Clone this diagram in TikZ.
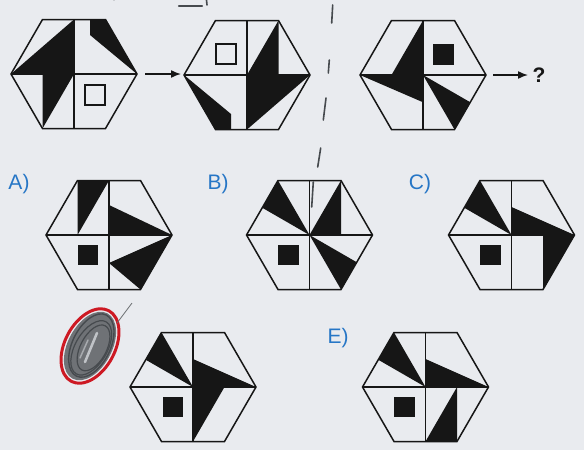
\documentclass[tikz,border=0pt]{standalone}
\usepackage{fontspec}
\setmainfont{Liberation Sans}
\usetikzlibrary{arrows.meta}
\definecolor{paper}{RGB}{233,235,239}
\definecolor{ink}{RGB}{22,22,22}
\definecolor{lab}{RGB}{38,118,198}
\definecolor{scribred}{RGB}{205,25,35}
\definecolor{pencil}{RGB}{70,74,78}
\newcommand{\hexbase}{%
  \draw[hexline] (-63,0) -- (-31.5,-54.5) -- (31.5,-54.5) -- (63,0) -- (31.5,54.5) -- (-31.5,54.5) -- cycle;
  \draw[hexline] (-63,0) -- (63,0) (0,-54.5) -- (0,54.5);}
\begin{document}
\begin{tikzpicture}[x=1pt,y=-1pt,
  hexline/.style={draw=ink,line width=1.5pt,line join=miter},
  blk/.style={fill=ink},
  sqo/.style={draw=ink,line width=1.5pt},
  lbl/.style={text=lab,font=\fontsize{21}{24}\selectfont,inner sep=0pt},
  arr/.style={draw=ink,line width=1.5pt,-{Latex[length=10pt,width=8pt]}},
  pmark/.style={draw=pencil,line width=1.6pt,line cap=round}]
\useasboundingbox (0,0) rectangle (584,450);
\fill[paper] (0,0) rectangle (584,450);

% ---- hexagon 1
\begin{scope}[shift={(74,74)}]
  \fill[blk] (-63,0) -- (0,-54.5) -- (0,0) -- (-31.5,54.5) -- (-31.5,0) -- cycle;
  \fill[blk] (16,-54.5) -- (31.5,-54.5) -- (63,0) -- (16,-39) -- cycle;
  \draw[sqo] (11,11) rectangle (31,31);
  \hexbase
\end{scope}
% ---- hexagon 2
\begin{scope}[shift={(247,75)}]
  \fill[blk] (63,0) -- (0,54.5) -- (0,0) -- (31.5,-54.5) -- (31.5,0) -- cycle;
  \fill[blk] (-16,54.5) -- (-31.5,54.5) -- (-63,0) -- (-16,39) -- cycle;
  \draw[sqo] (-31,-31) rectangle (-11,-11);
  \hexbase
\end{scope}
% ---- hexagon 3
\begin{scope}[shift={(423,75)}]
  \fill[blk] (0,-54.5) -- (0,27.25) -- (-63,0) -- (-31.5,0) -- cycle;
  \fill[blk] (0,0) -- (47.25,27.25) -- (31.5,54.5) -- cycle;
  \fill[blk] (10,-31) rectangle (31,-10);
  \hexbase
\end{scope}

% arrows
\coordinate (a1s) at (145,74);
\coordinate (a1e) at (181,74);
\coordinate (a2s) at (493,75);
\coordinate (a2e) at (528,75);
\draw[arr] (a1s) -- (a1e);
\draw[arr] (a2s) -- (a2e);
\node[inner sep=0pt,font=\bfseries\fontsize{21}{24}\selectfont,text=ink] (q) at (539,75) {?};

% ---- A
\begin{scope}[shift={(109,235)}]
  \fill[blk] (-31.5,-54.5) -- (0,-54.5) -- (-31.5,0) -- cycle;
  \fill[blk] (0,-30) -- (63,0) -- (0,0) -- cycle;
  \fill[blk] (0,28) -- (63,0) -- (31.5,54.5) -- cycle;
  \fill[blk] (-31.5,10) rectangle (-11,30);
  \hexbase
\end{scope}
% ---- B
\begin{scope}[shift={(309.5,235)}]
  \fill[blk] (0,0) -- (-47.25,-27.25) -- (-31.5,-54.5) -- cycle;
  \fill[blk] (0,0) -- (31.5,-54.5) -- (31.5,0) -- cycle;
  \fill[blk] (0,0) -- (47.25,27.25) -- (31.5,54.5) -- cycle;
  \fill[blk] (-31.5,10) rectangle (-11,30);
  \hexbase
\end{scope}
% ---- C
\begin{scope}[shift={(511.5,235)}]
  \fill[blk] (0,0) -- (-47.25,-27.25) -- (-31.5,-54.5) -- cycle;
  \fill[blk] (0,-28) -- (63,0) -- (31.5,54.5) -- (31.5,0) -- (0,0) -- cycle;
  \fill[blk] (-31.5,10) rectangle (-11,30);
  \hexbase
\end{scope}
% ---- D
\begin{scope}[shift={(193,387)}]
  \fill[blk] (0,0) -- (-47.25,-27.25) -- (-31.5,-54.5) -- cycle;
  \fill[blk] (0,-28) -- (63,0) -- (31.5,0) -- (0,54.5) -- cycle;
  \fill[blk] (-30.5,10) rectangle (-10,30);
  \hexbase
\end{scope}
% ---- E
\begin{scope}[shift={(425.5,387)}]
  \fill[blk] (0,0) -- (-47.25,-27.25) -- (-31.5,-54.5) -- cycle;
  \fill[blk] (0,-28) -- (63,0) -- (0,0) -- cycle;
  \fill[blk] (31.5,0) -- (31.5,54.5) -- (0,54.5) -- cycle;
  \fill[blk] (-31.5,10) rectangle (-10.5,30);
  \hexbase
\end{scope}

% labels
\node[lbl] (labA) at (19,184) {A)};
\node[lbl] (labB) at (218,184) {B)};
\node[lbl] (labC) at (420,184) {C)};
\node[lbl] (labE) at (338,338) {E)};

% dashed pencil separator
\draw[pmark] (332.7,5) -- (331.7,23);
\draw[pmark] (329.3,60) -- (328.3,73);
\draw[pmark] (326,98) -- (323.3,120);
\draw[pmark] (320.7,148) -- (317.7,167);
\draw[pmark] (313.3,182) -- (311.7,207);
% top marks
\draw[pmark,line width=2.4pt] (179,6) -- (202,6);
\draw[pmark] (206.5,0) -- (207,5);
\draw[pmark,line width=1.2pt] (114,0) arc[start angle=180,end angle=240,radius=5];

% scribble over D label
\coordinate (sc) at (90,346);
\fill[pencil!75!paper,rotate around={62:(sc)}] (sc) ellipse [x radius=37,y radius=22];
\draw[pencil,line width=1.4pt,rotate around={64:(sc)}] ([shift={(1,1)}]sc) ellipse [x radius=34,y radius=19];
\draw[pencil,line width=1.2pt,rotate around={60:(sc)}] ([shift={(-1,2)}]sc) ellipse [x radius=30,y radius=16];
\draw[pencil,line width=1.2pt,rotate around={62:(sc)}] ([shift={(0,4)}]sc) ellipse [x radius=25,y radius=13];
\draw[paper!75!pencil,line width=2.5pt,line cap=round] (85,362) -- (97,333);
\draw[paper!60!pencil,line width=1.5pt,line cap=round] (80,358) -- (88,340);
\draw[scribred,line width=3pt,rotate around={62:(sc)}] (sc) ellipse [x radius=40,y radius=25];
\draw[pencil!80,line width=0.8pt] (117,323) -- (132,303);
\end{tikzpicture}
\end{document}
